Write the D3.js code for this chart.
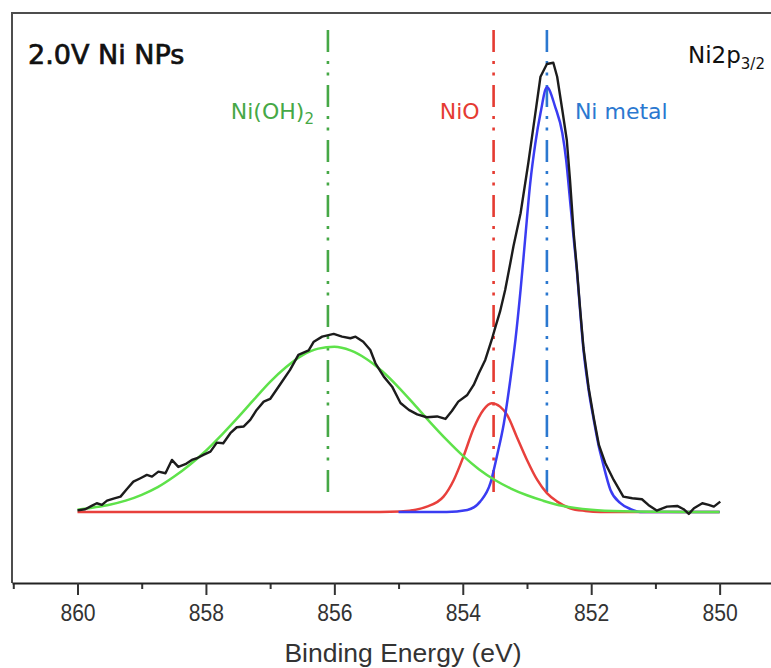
<!DOCTYPE html>
<html>
<head>
<meta charset="utf-8">
<script src="https://cdn.jsdelivr.net/npm/d3@7"></script>
<style>
  body { margin: 0; background: #fff; }
  svg { display: block; }
</style>
</head>
<body>
<script>
// [binding energy (eV), intensity (a.u.)]
const measured = [
  [860.00, 0.33], [859.88, 0.6], [859.78, 1.33], [859.70, 1.93], [859.62, 1.56], [859.54, 2.51],
  [859.44, 2.96], [859.33, 3.4], [859.23, 5.11], [859.13, 6.73], [859.02, 7.49], [858.92, 8.22],
  [858.84, 7.84], [858.74, 8.96], [858.63, 8.6], [858.53, 11.56], [858.43, 10.0], [858.32, 10.6],
  [858.22, 11.56], [858.14, 11.93], [858.04, 12.67], [857.93, 13.4], [857.83, 15.4], [857.73, 15.27],
  [857.62, 17.49], [857.52, 18.82], [857.41, 19.0], [857.31, 20.44], [857.21, 22.67], [857.10, 24.51],
  [857.00, 25.11], [856.84, 28.44], [856.69, 31.56], [856.56, 34.89], [856.40, 35.89], [856.32, 37.84],
  [856.19, 38.96], [856.01, 39.56], [855.88, 38.96], [855.75, 38.6], [855.67, 38.96], [855.55, 37.84],
  [855.44, 36.0], [855.36, 33.04], [855.23, 30.07], [855.10, 27.84], [854.97, 24.22], [854.84, 22.67],
  [854.71, 21.67], [854.56, 21.04], [854.40, 21.22], [854.27, 20.67], [854.17, 22.44], [854.07, 24.51],
  [853.93, 26.0], [853.83, 28.22], [853.75, 30.82], [853.65, 33.78], [853.55, 38.22], [853.49, 41.18],
  [853.42, 44.51], [853.34, 49.33], [853.26, 55.27], [853.21, 59.11], [853.10, 66.38], [852.98, 77.49],
  [852.87, 88.6], [852.79, 96.73], [852.69, 99.56], [852.59, 99.84], [852.53, 96.73], [852.45, 89.33],
  [852.38, 82.67], [852.33, 73.78], [852.27, 61.56], [852.22, 53.56], [852.17, 44.67], [852.12, 36.44],
  [852.04, 27.56], [851.96, 20.89], [851.88, 14.89], [851.78, 10.82], [851.65, 7.11], [851.50, 3.4],
  [851.36, 3.04], [851.21, 2.82], [851.11, 1.56], [850.98, 0.29], [850.82, 1.18], [850.66, 1.33],
  [850.56, 0.6], [850.48, -0.44], [850.40, 0.82], [850.27, 1.93], [850.17, 1.56], [850.09, 1.18],
  [849.99, 2.29]
];

const niOH2Fit = [
  [860, 0.5], [859.75, 1.0], [859.5, 1.6], [859.25, 2.5], [859, 3.8], [858.75, 5.5], [858.5, 7.8],
  [858.25, 10.5], [858, 13.6], [857.75, 17.2], [857.5, 21.0], [857.25, 25.0], [857, 28.9],
  [856.75, 32.2], [856.5, 34.8], [856.25, 36.3], [856, 36.7], [855.75, 35.9], [855.5, 34.0],
  [855.25, 31.2], [855, 27.7], [854.75, 23.8], [854.5, 19.8], [854.25, 16.0], [854, 12.5],
  [853.75, 9.5], [853.5, 7.1], [853.25, 5.2], [853, 3.7], [852.75, 2.5], [852.5, 1.5],
  [852.25, 0.9], [852, 0.5], [851.5, 0.15], [851, 0.05], [850.5, 0], [850, 0]
];

const nioFit = [
  [860, 0], [855.29, 0], [854.97, 0.11], [854.56, 1.18], [854.30, 3.4], [854.14, 7.11],
  [853.99, 12.29], [853.83, 18.6], [853.68, 22.67], [853.55, 24.16], [853.42, 23.4],
  [853.31, 21.56], [853.16, 16.73], [853.00, 11.56], [852.84, 7.11], [852.69, 4.16],
  [852.53, 2.29], [852.33, 0.82], [852.09, 0.22], [851.86, 0], [850, 0]
];

const niMetalFit = [
  [855.0, 0], [854.25, 0], [853.93, 0.44], [853.73, 2.29], [853.57, 6.38], [853.47, 12.29],
  [853.36, 19.71], [853.26, 29.33], [853.18, 38.22], [853.10, 49.33], [853.03, 60.44],
  [852.95, 73.04], [852.87, 81.93], [852.79, 88.6], [852.69, 94.38], [852.56, 90.0],
  [852.45, 84.22], [852.39, 78.22], [852.33, 69.33], [852.27, 60.44], [852.22, 53.11],
  [852.17, 44.22], [852.12, 36.0], [852.04, 27.11], [851.96, 20.44], [851.88, 14.44],
  [851.83, 11.56], [851.70, 4.89], [851.55, 2.0], [851.39, 0.67], [851.24, 0], [850, 0]
];

// reference peak positions (eV)
const refLines = [856.1, 853.52, 852.69];
const majorTicks = [860, 858, 856, 854, 852, 850];
const minorTicks = [861, 859, 857, 855, 853, 851, 849];

const width = 771;
const height = 668;
const plotLeft = 12, plotTop = 13, plotBottom = 583;

const svg = d3.select('body')
  .append('svg')
  .attr('width', width)
  .attr('height', height);

const x = d3.scaleLinear().domain([861.02, 849.2]).range([plotLeft, width]);
const y = d3.scaleLinear().domain([-15.8, 110.9]).range([plotBottom, plotTop]);

// frame (left + top)
svg.append('path')
  .attr('d', `M${plotLeft},${plotBottom} V${plotTop} H${width}`)
  .attr('fill', 'none')
  .attr('stroke', '#4d4d4d')
  .attr('stroke-width', 2);

// reference dash-dot-dot lines
const refColors = ['#46a846', '#e53b32', '#2b78d0'];
svg.selectAll('.ref')
  .data(refLines)
  .enter()
  .append('line')
  .attr('class', 'ref')
  .attr('x1', d => x(d))
  .attr('x2', d => x(d))
  .attr('y1', y(107.1))
  .attr('y2', y(2.4))
  .attr('stroke', (d, i) => refColors[i])
  .attr('stroke-width', 2.6)
  .attr('stroke-dasharray', '22,9,3,8.5,3,9.5');

const fitLine = d3.line().x(d => x(d[0])).y(d => y(d[1])).curve(d3.curveMonotoneX);
const rawLine = d3.line().x(d => x(d[0])).y(d => y(d[1]));

const fits = [
  { data: nioFit, color: '#e8403c' },
  { data: niMetalFit, color: '#3a3cf2' },
  { data: niOH2Fit, color: '#5ee24a' }
];

svg.selectAll('.fit')
  .data(fits)
  .enter()
  .append('path')
  .attr('class', 'fit')
  .attr('d', d => fitLine(d.data))
  .attr('fill', 'none')
  .attr('stroke', d => d.color)
  .attr('stroke-width', 2.5);

svg.append('path')
  .attr('d', rawLine(measured))
  .attr('fill', 'none')
  .attr('stroke', '#1c1c1c')
  .attr('stroke-width', 2.4)
  .attr('stroke-linejoin', 'round');

// x axis: minor ticks, then major with labels
svg.append('g')
  .attr('transform', `translate(0,${plotBottom})`)
  .call(d3.axisBottom(x).tickValues(minorTicks).tickSize(6).tickSizeOuter(0).tickFormat(''))
  .call(g => g.select('.domain').remove())
  .call(g => g.selectAll('line').attr('stroke', '#333').attr('stroke-width', 2));

const xAxis = svg.append('g')
  .attr('transform', `translate(0,${plotBottom})`)
  .call(d3.axisBottom(x).tickValues(majorTicks).tickSize(12).tickSizeOuter(0).tickPadding(9).tickFormat(d3.format('d')));

xAxis.select('.domain').attr('stroke', '#222').attr('stroke-width', 2);
xAxis.selectAll('line').attr('stroke', '#333').attr('stroke-width', 2);
xAxis.selectAll('text')
  .attr('font-family', 'Liberation Sans, Arial, sans-serif')
  .attr('font-size', 24)
  .attr('fill', '#333')
  .attr('transform', 'scale(0.88,1)');

svg.append('text')
  .attr('x', 403)
  .attr('y', 662)
  .attr('text-anchor', 'middle')
  .attr('font-family', 'Liberation Sans, Arial, sans-serif')
  .attr('font-size', 26.5)
  .attr('fill', '#333')
  .text('Binding Energy (eV)');

// annotations
svg.append('text')
  .attr('x', 28)
  .attr('y', 64)
  .attr('font-family', 'DejaVu Sans, sans-serif')
  .attr('font-size', 27)
  .attr('fill', '#111')
  .attr('stroke', '#111')
  .attr('stroke-width', 0.7)
  .text('2.0V Ni NPs');

const np = svg.append('text')
  .attr('x', 688)
  .attr('y', 63)
  .attr('font-family', 'DejaVu Sans, sans-serif')
  .attr('font-size', 23)
  .attr('fill', '#111');
np.append('tspan').text('Ni2p');
np.append('tspan').attr('font-size', 15).attr('dy', 6).text('3/2');

const oh = svg.append('text')
  .attr('x', x(refLines[0]) - 14)
  .attr('y', 119)
  .attr('text-anchor', 'end')
  .attr('font-family', 'DejaVu Sans, sans-serif')
  .attr('font-size', 22)
  .attr('fill', refColors[0]);
oh.append('tspan').text('Ni(OH)');
oh.append('tspan').attr('font-size', 15).attr('dy', 5).text('2');

svg.append('text')
  .attr('x', x(refLines[1]) - 14)
  .attr('y', 119)
  .attr('text-anchor', 'end')
  .attr('font-family', 'DejaVu Sans, sans-serif')
  .attr('font-size', 22)
  .attr('fill', refColors[1])
  .text('NiO');

svg.append('text')
  .attr('x', x(refLines[2]) + 28)
  .attr('y', 119)
  .attr('font-family', 'DejaVu Sans, sans-serif')
  .attr('font-size', 22)
  .attr('fill', refColors[2])
  .text('Ni metal');
</script>
</body>
</html>
